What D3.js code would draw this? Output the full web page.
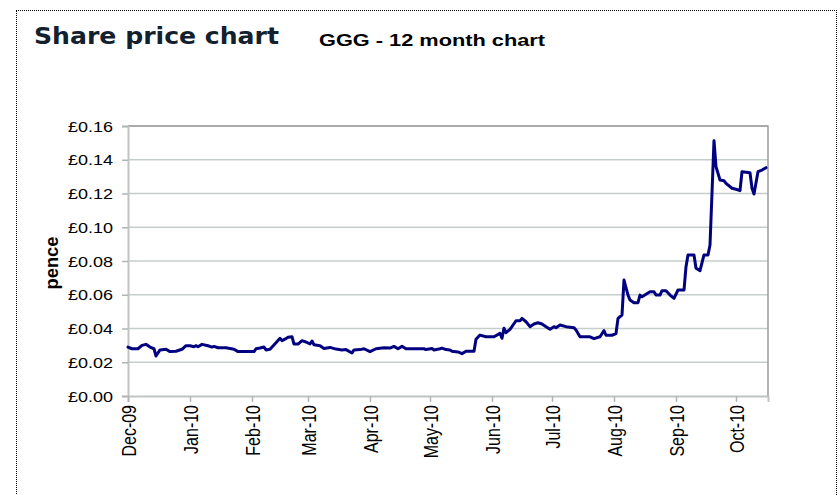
<!DOCTYPE html>
<html><head><meta charset="utf-8">
<script src="https://cdn.jsdelivr.net/npm/d3@7/dist/d3.min.js"></script>
<style>body{margin:0;background:#fff}svg{display:block}</style>
</head><body>
<svg id="c" width="840" height="495"></svg>
<script>
const dates = ["2009-12-01","2009-12-03","2009-12-06","2009-12-08","2009-12-10","2009-12-12","2009-12-14","2009-12-15","2009-12-17","2009-12-20","2009-12-22","2009-12-25","2009-12-28","2009-12-30",
"2010-01-01","2010-01-03","2010-01-04","2010-01-05","2010-01-07","2010-01-10","2010-01-12","2010-01-13","2010-01-15","2010-01-19","2010-01-23","2010-01-25",
"2010-02-02","2010-02-03","2010-02-05","2010-02-07","2010-02-08","2010-02-10","2010-02-13","2010-02-15","2010-02-16","2010-02-18","2010-02-19","2010-02-21","2010-02-22","2010-02-24","2010-02-26","2010-02-28",
"2010-03-02","2010-03-03","2010-03-04","2010-03-07","2010-03-09","2010-03-12","2010-03-15","2010-03-18","2010-03-20","2010-03-23","2010-03-24","2010-03-27","2010-03-29",
"2010-04-01","2010-04-04","2010-04-08","2010-04-11","2010-04-13","2010-04-15","2010-04-17","2010-04-19","2010-04-28","2010-04-29",
"2010-05-02","2010-05-03","2010-05-06","2010-05-07","2010-05-09","2010-05-11","2010-05-12","2010-05-15","2010-05-17","2010-05-19","2010-05-23","2010-05-24","2010-05-26","2010-05-29",
"2010-06-02","2010-06-05","2010-06-06","2010-06-07","2010-06-08","2010-06-10","2010-06-13","2010-06-15","2010-06-16","2010-06-18","2010-06-20","2010-06-22","2010-06-24","2010-06-26","2010-06-28","2010-06-30",
"2010-07-02","2010-07-03","2010-07-05","2010-07-08","2010-07-12","2010-07-13","2010-07-15","2010-07-20","2010-07-22","2010-07-25","2010-07-27","2010-07-28","2010-07-31",
"2010-08-02","2010-08-03","2010-08-05","2010-08-06","2010-08-08","2010-08-09","2010-08-11","2010-08-13","2010-08-14","2010-08-15","2010-08-19","2010-08-21","2010-08-22","2010-08-24","2010-08-25","2010-08-27","2010-08-29","2010-08-31",
"2010-09-02","2010-09-05","2010-09-06","2010-09-07","2010-09-10","2010-09-11","2010-09-13","2010-09-15","2010-09-17","2010-09-18","2010-09-20","2010-09-21","2010-09-23","2010-09-25","2010-09-26","2010-09-29",
"2010-10-01","2010-10-03","2010-10-04","2010-10-08","2010-10-09","2010-10-10","2010-10-12","2010-10-14","2010-10-16"];
const prices = [0.029,0.028,0.028,0.030,0.0306,0.029,0.028,0.0237,0.0273,0.0277,0.0263,0.0265,0.0277,0.0298,
0.0298,0.0292,0.0298,0.0292,0.0306,0.0298,0.029,0.0294,0.0286,0.0286,0.0277,0.0263,
0.0263,0.028,0.0284,0.029,0.0273,0.0277,0.0316,0.0342,0.0328,0.034,0.0348,0.0351,0.0308,0.0308,0.0328,0.032,
0.0308,0.0326,0.0304,0.0298,0.0282,0.0288,0.0278,0.0273,0.0275,0.0255,0.0273,0.0275,0.028,
0.0263,0.028,0.0286,0.0284,0.0294,0.028,0.0294,0.028,0.028,0.0275,
0.0282,0.0273,0.028,0.0284,0.0275,0.0273,0.0265,0.0261,0.0251,0.0265,0.0265,0.0336,0.0361,0.0351,
0.0351,0.0371,0.0342,0.0401,0.0375,0.0395,0.0446,0.0446,0.046,0.044,0.0411,0.0427,0.0434,0.0427,0.0411,0.0395,
0.0411,0.0405,0.0421,0.0411,0.0405,0.0391,0.0351,0.0351,0.034,0.0351,0.0387,0.036,0.036,
0.037,0.046,0.048,0.0687,0.0598,0.0569,0.0553,0.0553,0.0598,0.0588,0.0618,0.0618,0.0598,0.0598,0.0624,0.0624,0.0598,0.0579,
0.0628,0.0628,0.0766,0.0836,0.0836,0.0757,0.0743,0.0836,0.0836,0.0895,0.1513,0.1359,0.128,0.1276,0.126,0.1231,
0.1225,0.1217,0.1329,0.1323,0.1231,0.1197,0.1329,0.1339,0.1353];
const monthTicks = ["2009-12-01","2010-01-01","2010-02-01","2010-03-01","2010-04-01","2010-05-01","2010-06-01","2010-07-01","2010-08-01","2010-09-01","2010-10-01"];
const monthLabels = ["Dec-09","Jan-10","Feb-10","Mar-10","Apr-10","May-10","Jun-10","Jul-10","Aug-10","Sep-10","Oct-10"];
const yTicks = [0,0.02,0.04,0.06,0.08,0.10,0.12,0.14,0.16];
const yTickLabels = ["£0.00","£0.02","£0.04","£0.06","£0.08","£0.10","£0.12","£0.14","£0.16"];
const domainDates = ["2009-12-01","2010-10-17"];

const parse = d3.timeParse("%Y-%m-%d");
const svg = d3.select("#c");
const L=128, R=768, T=126, B=396;
const x = d3.scaleTime().domain(domainDates.map(parse)).range([L,R]);
const y = d3.scaleLinear().domain([0,0.16]).range([B,T]);

// outer dotted frame
svg.append("rect").attr("x",16).attr("y",10).attr("width",820).attr("height",500)
  .attr("fill","none").attr("stroke","#000").attr("stroke-width",1).attr("stroke-dasharray","1,1")
  .attr("shape-rendering","crispEdges");

// titles
svg.append("text").attr("x",34).attr("y",44).text("Share price chart")
  .attr("font-family","DejaVu Sans").attr("font-weight","bold").attr("font-size",23)
  .attr("fill","#13202e").attr("textLength",245).attr("lengthAdjust","spacingAndGlyphs");
svg.append("text").attr("x",319).attr("y",46).text("GGG - 12 month chart")
  .attr("font-family","Liberation Sans, Arial").attr("font-weight","bold").attr("font-size",16.5)
  .attr("fill","#000").attr("textLength",226).attr("lengthAdjust","spacingAndGlyphs");

// gridlines
svg.append("g").selectAll("line").data(yTicks.slice(1)).join("line")
  .attr("x1",L).attr("x2",R).attr("y1",d=>y(d)).attr("y2",d=>y(d))
  .attr("stroke","#c6cecb").attr("stroke-width",1.5);

// plot border top/right
svg.append("path").attr("d",`M${L},${T}H${R}V${B}`).attr("fill","none").attr("stroke","#9a9a9a").attr("stroke-width",1.5);

// y axis
const yAxis = d3.axisLeft(y).tickValues(yTicks).tickFormat((d,i)=>yTickLabels[i]).tickSize(6).tickPadding(9);
const gy = svg.append("g").attr("transform",`translate(${L},0)`).call(yAxis);
gy.select(".domain").attr("stroke","#c0c4c4").attr("stroke-width",2);
gy.selectAll(".tick line").attr("stroke","#b0b4b4").attr("stroke-width",1.5);
gy.selectAll(".tick text").attr("font-family","Liberation Sans, Arial").attr("font-size",14.5).attr("fill","#000")
  .attr("textLength",45).attr("lengthAdjust","spacingAndGlyphs").attr("dy","0.35em");

// x axis
const xAxis = d3.axisBottom(x).tickValues(monthTicks.map(parse)).tickFormat((d,i)=>monthLabels[i]).tickSize(6);
const gx = svg.append("g").attr("transform",`translate(0,${B})`).call(xAxis);
gx.select(".domain").attr("stroke","#c0c4c4").attr("stroke-width",2);
gx.selectAll(".tick line").attr("stroke","#b0b4b4").attr("stroke-width",1.5);
gx.selectAll(".tick text").attr("font-family","Liberation Sans, Arial").attr("font-size",16).attr("fill","#000")
  .attr("text-anchor","end").attr("y",0).attr("dy",0)
  .attr("transform","translate(0,9) scale(1.3,1) rotate(-90) translate(0,5.7)");

// y axis title
svg.append("text").attr("transform","translate(58,263) rotate(-90)").attr("text-anchor","middle")
  .text("pence").attr("font-family","Liberation Sans, Arial").attr("font-weight","bold").attr("font-size",17.5)
  .attr("textLength",53).attr("lengthAdjust","spacingAndGlyphs");

// line
const pts = dates.map((d,i)=>({date:parse(d), v:prices[i]}));
svg.append("path").datum(pts).attr("fill","none").attr("stroke","#000080").attr("stroke-width",3)
  .attr("stroke-linejoin","round").attr("stroke-linecap","round")
  .attr("d", d3.line().x(d=>x(d.date)).y(d=>y(d.v)));
</script>
</body></html>
